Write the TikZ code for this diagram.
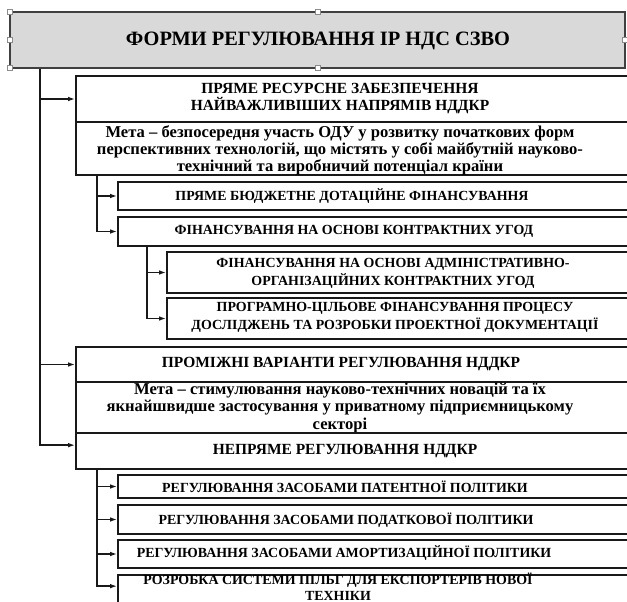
\documentclass[tikz,border=0pt]{standalone}
\usepackage{fontspec}
\setmainfont{Liberation Serif}
\usetikzlibrary{positioning,fit,arrows.meta}

\tikzset{
  box/.style={draw=black!90, line width=1.1pt, inner sep=0pt},
  headbox/.style={box, fill=black!15, draw=black!75, line width=1.5pt},
  ttl/.style={font=\fontsize{14.5}{17}\selectfont\bfseries, inner sep=0pt},
  hd/.style={font=\fontsize{11}{12.1}\selectfont\bfseries, align=center, inner sep=0pt},
  aim/.style={font=\fontsize{11.8}{12.1}\selectfont\bfseries, align=center, inner sep=0pt},
  sm/.style={font=\fontsize{9.9}{12.8}\selectfont\bfseries, align=center, inner sep=0pt},
  link/.style={line width=1pt, black!90},
  arr/.style={link, -{Latex[length=5pt,width=3.2pt]}},
  handle/.style={draw=black!45, fill=white, line width=0.4pt, minimum size=3.5pt, inner sep=0pt}
}

\begin{document}
\begin{tikzpicture}[x=0.025cm, y=-0.025cm]
\useasboundingbox (0,0) rectangle (627,602);
\clip (0,0) rectangle (627,602);

% title
\node[headbox, fit={(10,12) (625,68)}] (title) {};
\node[ttl] (titlet) at (318,41) {ФОРМИ РЕГУЛЮВАННЯ ІР НДС СЗВО};
\foreach \hx/\hy [count=\i] in {10/12, 318/12, 10/40, 10/68, 318/68, 625/40}
  \node[handle] (h\i) at (\hx,\hy) {};

% trunks
\coordinate (tr) at (40,0);
\coordinate (tr2) at (97,0);
\coordinate (tr3) at (147,0);

% direct support
\node[box, fit={(76,76) (700,122)}] (pryame) {};
\node[hd] (pryamet) at (340,99) {ПРЯМЕ РЕСУРСНЕ ЗАБЕЗПЕЧЕННЯ\\НАЙВАЖЛИВІШИХ НАПРЯМІВ НДДКР};
\node[box, fit={(76,122) (700,175)}] (meta1) {};
\node[aim] (meta1t) at (340,150) {Мета – безпосередня участь ОДУ у розвитку початкових форм\\перспективних технологій, що містять у собі майбутній науково-\\технічний та виробничий потенціал країни};

\node[box, fit={(118,182) (700,210)}] (budzh) {};
\node[sm] (budzht) at (352,196) {ПРЯМЕ БЮДЖЕТНЕ ДОТАЦІЙНЕ ФІНАНСУВАННЯ};
\node[box, fit={(118,217) (700,246)}] (kontr) {};
\node[sm] (kontrt) at (354,231) {ФІНАНСУВАННЯ НА ОСНОВІ КОНТРАКТНИХ УГОД};

\node[box, fit={(167,252) (700,293)}] (admin) {};
\node[sm] (admint) at (393,273) {ФІНАНСУВАННЯ НА ОСНОВІ  АДМІНІСТРАТИВНО-\\ОРГАНІЗАЦІЙНИХ КОНТРАКТНИХ УГОД};
\node[box, fit={(167,298) (700,339)}] (prog) {};
\node[sm] (progt) at (395,317) {ПРОГРАМНО-ЦІЛЬОВЕ ФІНАНСУВАННЯ  ПРОЦЕСУ\\ДОСЛІДЖЕНЬ ТА РОЗРОБКИ ПРОЕКТНОЇ ДОКУМЕНТАЦІЇ};

% intermediate
\node[box, fit={(76,347) (700,382)}] (promizh) {};
\node[hd] (promizht) at (341,364) {ПРОМІЖНІ ВАРІАНТИ РЕГУЛЮВАННЯ  НДДКР};
\node[box, fit={(76,382) (700,433)}] (meta2) {};
\node[aim] (meta2t) at (340,408) {Мета – стимулювання  науково-технічних новацій та їх\\якнайшвидше застосування у приватному підприємницькому\\секторі};

% indirect
\node[box, fit={(76,433) (700,469)}] (nepr) {};
\node[hd] (neprt) at (345,451) {НЕПРЯМЕ РЕГУЛЮВАННЯ  НДДКР};
\coordinate (neprin) at ([yshift=-9.2pt]nepr.north west);

\node[box, fit={(118,475) (700,498)}] (patent) {};
\node[sm] (patentt) at (345,487) {РЕГУЛЮВАННЯ ЗАСОБАМИ ПАТЕНТНОЇ ПОЛІТИКИ};
\node[box, fit={(118,505) (700,534)}] (podat) {};
\node[sm] (podatt) at (346,520) {РЕГУЛЮВАННЯ ЗАСОБАМИ ПОДАТКОВОЇ ПОЛІТИКИ};
\node[box, fit={(118,540) (700,568)}] (amort) {};
\node[sm] (amortt) at (344,553) {РЕГУЛЮВАННЯ ЗАСОБАМИ АМОРТИЗАЦІЙНОЇ ПОЛІТИКИ};
\node[box, fit={(118,575) (700,640)}] (rozr) {};
\node[sm, font=\fontsize{9.9}{11.6}\selectfont\bfseries] (rozrt) at (338,587) {РОЗРОБКА СИСТЕМИ ПІЛЬГ ДЛЯ ЕКСПОРТЕРІВ НОВОЇ\\ТЕХНІКИ};
\coordinate (rozrin) at ([yshift=-8.5pt]rozr.north west);

% connectors
\foreach \b in {pryame.west, promizh.west, neprin}
  \draw[arr] (title.south -| tr) |- (\b);
\foreach \b in {budzh.west, kontr.west}
  \draw[arr] (meta1.south -| tr2) |- (\b);
\foreach \b in {admin.west, prog.west}
  \draw[arr] (kontr.south -| tr3) |- (\b);
\foreach \b in {patent.west, podat.west, amort.west, rozrin}
  \draw[arr] (nepr.south -| tr2) |- (\b);
\end{tikzpicture}
\end{document}
